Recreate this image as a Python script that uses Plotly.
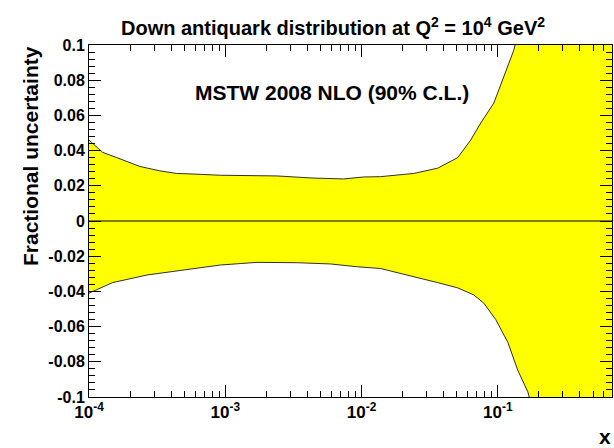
import plotly.graph_objects as go
import numpy as np

# Upper edge of the uncertainty band
x_up = [1.0e-4, 1.26e-4, 1.6e-4, 2.36e-4, 3.31e-4, 4.4e-4, 5.8e-4, 9.2e-4, 2.4e-3, 4.4e-3,
        7.4e-3, 1.03e-2, 1.38e-2, 2.41e-2, 3.62e-2, 5.08e-2, 6.33e-2, 7.5e-2, 9.35e-2,
        0.111, 0.131, 0.15, 0.2, 0.3, 0.5, 0.8]
y_up = [0.046, 0.039, 0.036, 0.031, 0.0285, 0.027, 0.0267, 0.026, 0.0256, 0.0244,
        0.0239, 0.025, 0.0252, 0.027, 0.030, 0.036, 0.046, 0.0557, 0.067,
        0.082, 0.097, 0.115, 0.16, 0.25, 0.45, 0.8]

# Lower edge of the uncertainty band
x_lo = [1.0e-4, 1.49e-4, 2.66e-4, 4.4e-4, 9.2e-4, 1.71e-3, 3.37e-3, 5.9e-3, 9.3e-3,
        1.38e-2, 2.18e-2, 3.62e-2, 5.08e-2, 6.67e-2, 7.9e-2, 9.66e-2, 0.1186, 0.140,
        0.166, 0.2, 0.3, 0.5, 0.8]
y_lo = [-0.041, -0.035, -0.0307, -0.0284, -0.025, -0.0235, -0.0237, -0.0244, -0.026,
        -0.027, -0.0307, -0.035, -0.038, -0.042, -0.0467, -0.056, -0.069, -0.0847,
        -0.097, -0.12, -0.2, -0.4, -0.8]

y_tickvals = [-0.1, -0.08, -0.06, -0.04, -0.02, 0, 0.02, 0.04, 0.06, 0.08, 0.1]
y_ticktext = ["-0.1", "-0.08", "-0.06", "-0.04", "-0.02", "0", "0.02", "0.04", "0.06", "0.08", "0.1"]
x_tickvals = [1e-4, 1e-3, 1e-2, 1e-1]
x_ticktext = ["10<sup>-4</sup>", "10<sup>-3</sup>", "10<sup>-2</sup>", "10<sup>-1</sup>"]

x_minor = [m * 10.0 ** e for e in range(-4, 0) for m in range(2, 10)]
x_minor = [v for v in x_minor if v < 0.69]

FONT = "Liberation Sans, Arial, sans-serif"
L, R, T, B = 89, 2, 45, 51
PW, PH = 614 - L - R, 448 - T - B

fig = go.Figure()
# band as closed polygon
fig.add_trace(go.Scatter(
    x=x_up + x_lo[::-1], y=y_up + y_lo[::-1],
    fill="toself", fillcolor="#ffff00", mode="lines",
    line=dict(color="#303030", width=1), hoverinfo="skip", showlegend=False))
# central line
fig.add_trace(go.Scatter(
    x=[1e-4, 0.69], y=[0, 0], mode="lines",
    line=dict(color="black", width=1.2), showlegend=False))

fig.update_layout(
    width=614, height=448,
    margin=dict(l=L, r=R, t=T, b=B),
    paper_bgcolor="white", plot_bgcolor="white",
    font=dict(family=FONT, color="black"),
    showlegend=False,
)
fig.update_xaxes(
    type="log", range=[-4, np.log10(0.689)],
    showgrid=False, zeroline=False,
    showline=True, linecolor="black", linewidth=1, mirror="ticks",
    ticks="inside", ticklen=12, tickcolor="black", tickwidth=1,
    tickmode="array", tickvals=x_tickvals, ticktext=["<b>%s</b>" % t for t in x_ticktext],
    tickfont=dict(size=17, family=FONT),
    minor=dict(tickmode="array", tickvals=x_minor, ticks="inside", ticklen=6,
               tickcolor="black", tickwidth=1, showgrid=False),
)
fig.update_yaxes(
    range=[-0.1, 0.1],
    showgrid=False, zeroline=False,
    showline=True, linecolor="black", linewidth=1, mirror="ticks",
    ticks="inside", ticklen=12, tickcolor="black", tickwidth=1,
    tickmode="array", tickvals=y_tickvals, ticktext=["<b>%s</b>" % t for t in y_ticktext],
    tickfont=dict(size=16, family=FONT),
    minor=dict(dtick=0.004, tick0=0, ticks="inside", ticklen=6,
               tickcolor="black", tickwidth=1, showgrid=False),
)

fig.add_annotation(
    text="Down antiquark distribution at Q<sup>2</sup> = 10<sup>4</sup> GeV<sup>2</sup>",
    xref="paper", yref="paper", x=(333 - L) / PW, y=(448 - B - 26) / PH,
    yanchor="middle", showarrow=False, font=dict(size=20, family=FONT, weight="bold"))
fig.add_annotation(
    text="MSTW 2008 NLO (90% C.L.)",
    xref="paper", yref="paper", x=(332 - L) / PW, y=(448 - B - 92) / PH, yanchor="middle",
    showarrow=False, font=dict(size=21, family=FONT, weight="bold"))
fig.add_annotation(
    text="Fractional uncertainty", textangle=-90,
    xref="paper", yref="paper", x=(30 - L) / PW, y=(448 - B - 156) / PH,
    xanchor="center", yanchor="middle",
    showarrow=False, font=dict(size=21, family=FONT, weight="bold"))
fig.add_annotation(
    text="x", xref="paper", yref="paper", x=(613 - L) / PW, xanchor="right",
    y=(448 - B - 436) / PH, yanchor="middle", showarrow=False,
    font=dict(size=21, family=FONT, weight="bold"))

fig.write_html("out.html")
